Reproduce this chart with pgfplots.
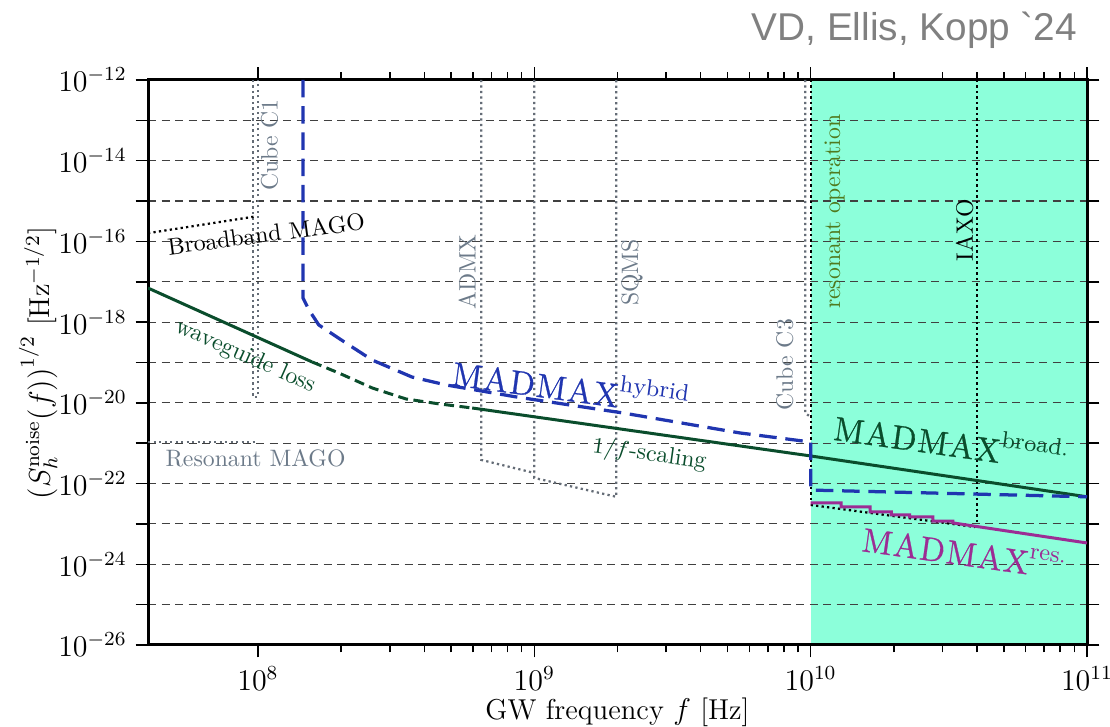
\documentclass[border=0pt]{standalone}
\usepackage{fontspec}
\usepackage{pgfplots}
\pgfplotsset{compat=1.18}
\usetikzlibrary{calc}
\newfontfamily\titlefont{Liberation Sans}
\newfontfamily\madfam[FakeBold=0.8]{Latin Modern Roman}
\definecolor{dgreen}{RGB}{10,77,44}
\definecolor{mblue}{RGB}{32,53,176}
\definecolor{mmag}{RGB}{156,44,148}
\definecolor{aqua}{RGB}{140,255,218}
\definecolor{slate}{RGB}{108,122,137}
\definecolor{dotgray}{RGB}{100,108,118}
\definecolor{olivetxt}{RGB}{80,122,30}
\newcommand{\annfont}{\fontsize{9.5}{11}\selectfont}
\newcommand{\madfont}{\fontsize{13.5}{15}\selectfont}
\newcommand{\MAD}{\hbox{\madfam M\kern0.6pt A\kern0.6pt D\kern0.6pt M\kern0.6pt A\kern0.6pt X}}
\begin{document}
\begin{tikzpicture}
\begin{axis}[
  set layers,
  scale only axis, width=375.6pt, height=226pt,
  xmode=log, ymode=log,
  xmin=4e7, xmax=1e11, ymin=1e-26, ymax=1e-12,
  xtick={1e8,1e9,1e10,1e11},
  ytick={1e-26,1e-25,1e-24,1e-23,1e-22,1e-21,1e-20,1e-19,1e-18,1e-17,1e-16,1e-15,1e-14,1e-13,1e-12},
  yticklabels={$10^{-26}$,,$10^{-24}$,,$10^{-22}$,,$10^{-20}$,,$10^{-18}$,,$10^{-16}$,,$10^{-14}$,,$10^{-12}$},
  minor y tick style={draw=none},
  ymajorgrids,
  grid style={black!75, dash pattern=on 3.2pt off 2.2pt, line width=0.45pt},
  tick align=outside,
  major tick length=5pt, minor tick length=3pt,
  tick style={black, line width=0.6pt},
  axis line style={line width=1.2pt},
  tick label style={font=\fontsize{12}{14}\selectfont},
  xlabel={GW frequency $f$ [Hz]},
  ylabel={$\left(S_h^{\mathrm{noise}}(f)\right)^{1/2}$ [Hz$^{-1/2}$]},
  label style={font=\fontsize{11.5}{13}\selectfont},
  xlabel style={at={(axis description cs:0.5,-0.1186)}, anchor=center},
  ylabel style={at={(axis description cs:-0.117,0.499)}, anchor=center, rotate=0},
  clip=true,
]
% resonant operation region
\addplot[draw=none, fill=aqua, on layer=axis background] coordinates {(1e10,1e-26) (1e11,1e-26) (1e11,1e-12) (1e10,1e-12)} -- cycle;

% gray dotted detector outlines
\addplot[dotgray, line width=0.9pt, dash pattern=on 0.9pt off 1.3pt] coordinates {(9.6e7,1e-12) (9.6e7,1.4e-20) (1e8,1.4e-20) (1e8,1e-12)};
\addplot[dotgray, line width=0.9pt, dash pattern=on 0.9pt off 1.3pt] coordinates {(4e7,1.05e-21) (1e8,1.05e-21)};
\addplot[dotgray, line width=0.9pt, dash pattern=on 0.9pt off 1.3pt] coordinates {(6.43e8,1e-12) (6.43e8,3.85e-22) (1e9,1.83e-22)};
\addplot[dotgray, line width=0.9pt, dash pattern=on 0.9pt off 1.3pt] coordinates {(1e9,1e-12) (1e9,1.38e-22) (1.98e9,4.7e-23) (1.98e9,1e-12)};
\addplot[dotgray, line width=0.9pt, dash pattern=on 0.9pt off 1.3pt] coordinates {(9.55e9,1e-12) (9.55e9,5.6e-21) (9.85e9,4.8e-21)};

% black dotted
\addplot[black, line width=0.9pt, dash pattern=on 0.9pt off 1.3pt] coordinates {(4e7,1.6e-16) (9.67e7,4.1e-16)};
\addplot[black, line width=0.9pt, dash pattern=on 0.9pt off 1.3pt] coordinates {(1e10,1e-12) (1e10,3.3e-23)};
\addplot[black, line width=0.9pt, dash pattern=on 0.9pt off 1.3pt] coordinates {(4e10,1e-12) (4e10,1.1e-23)};
\addplot[black, line width=0.9pt, dash pattern=on 0.9pt off 1.3pt] coordinates {(1e10,2.95e-23) (3.93e10,8.4e-24)};

% MADMAX broadband (green)
\addplot[dgreen, line width=1.2pt] coordinates {(4e7,7.0e-18) (1.57e8,1.03e-19)};
\addplot[dgreen, line width=1.2pt, dash pattern=on 4pt off 2.2pt] coordinates {(1.57e8,1.03e-19) (1.96e8,5.5e-20) (2.59e8,2.34e-20) (3.43e8,1.25e-20) (4.53e8,9.4e-21) (5.96e8,7.46e-21)};
\addplot[dgreen, line width=1.2pt] coordinates {(5.96e8,7.46e-21) (1e10,4.83e-22) (1e11,4.7e-23)};

% MADMAX hybrid (blue dashed)
\addplot[mblue, line width=1.3pt, dash pattern=on 7pt off 3.5pt] coordinates {(1.455e8,1e-12) (1.455e8,3.98e-18) (1.53e8,2.0e-18) (1.66e8,8.5e-19) (2.08e8,3.05e-19) (2.59e8,1.15e-19) (3.61e8,4.36e-20) (4.80e8,2.77e-20) (8.61e8,1.4e-20) (2.09e9,5.62e-21) (5.53e9,1.8e-21) (1e10,1.07e-21) (1e10,6.9e-23) (1e11,4.7e-23)};

% MADMAX resonant (magenta staircase)
\addplot[mmag, line width=1.2pt] coordinates {(1e10,3.3e-23) (1.29e10,3.3e-23) (1.29e10,2.63e-23) (1.64e10,2.63e-23) (1.64e10,1.99e-23) (1.96e10,1.99e-23) (1.96e10,1.67e-23) (2.28e10,1.67e-23) (2.28e10,1.49e-23) (2.77e10,1.49e-23) (2.77e10,1.18e-23) (3.27e10,1.18e-23) (3.27e10,1.06e-23) (1e11,3.37e-24)};

% labels
\node[slate, rotate=90, font=\annfont] at (axis cs:1.10e8,2.45e-14) {Cube C1};
\node[black, rotate=7.5, font=\annfont] at (axis cs:1.07e8,1.53e-16) {Broadband MAGO};
\node[dgreen, rotate=-24, font=\annfont] at (axis cs:9.0e7,1.4e-19) {waveguide loss};
\node[slate, font=\annfont] at (axis cs:9.8e7,4.3e-22) {Resonant MAGO};
\node[slate, rotate=90, font=\annfont] at (axis cs:5.71e8,1.75e-17) {ADMX};
\node[slate, rotate=90, font=\annfont] at (axis cs:2.26e9,1.7e-17) {SQMS};
\node[slate, rotate=90, font=\annfont] at (axis cs:8.06e9,8.7e-20) {Cube C3};
\node[olivetxt, rotate=90, font=\annfont] at (axis cs:1.22e10,5.4e-16) {resonant operation};
\node[black, rotate=90, font=\annfont] at (axis cs:3.61e10,1.9e-16) {IAXO};
\node[mblue, rotate=-7.7, font=\madfont] at (axis cs:1.36e9,2.77e-20) {$\MAD^{\mathrm{hybrid}}$};
\node[dgreen, rotate=-8, font=\annfont] at (axis cs:2.61e9,5.1e-22) {$1/f$-scaling};
\node[dgreen, rotate=-8, font=\madfont] at (axis cs:3.24e10,1.2e-21) {$\MAD^{\mathrm{broad.}}$};
\node[mmag, rotate=-8, font=\madfont] at (axis cs:3.6e10,2.0e-24) {$\MAD^{\mathrm{res.}}$};
\end{axis}
\node[anchor=east, text=black!50, font=\titlefont\fontsize{15.5}{17}\selectfont, xshift=-0.5pt, yshift=20pt] at (current axis.north east) {VD, Ellis, Kopp \textasciigrave 24};
\pgfresetboundingbox
\path[use as bounding box] ($(current axis.south west)+(-59.2pt,-32.8pt)$) rectangle ($(current axis.north east)+(9.2pt,32pt)$);
\end{tikzpicture}
\end{document}
